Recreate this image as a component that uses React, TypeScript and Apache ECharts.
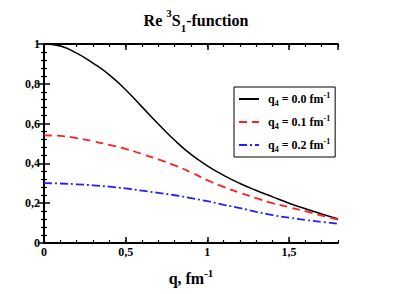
import React, { useEffect, useRef } from "react";
import * as echarts from "echarts";

const qValues = [0, 0.1, 0.2, 0.3, 0.4, 0.5, 0.6, 0.7, 0.8, 0.9, 1.0, 1.1, 1.2, 1.3, 1.4, 1.5, 1.6, 1.7, 1.8];
const q4_00 = [1.0, 0.99, 0.954, 0.904, 0.845, 0.77, 0.684, 0.598, 0.516, 0.445, 0.388, 0.34, 0.299, 0.264, 0.232, 0.2, 0.172, 0.146, 0.121];
const q4_01 = [0.541, 0.538, 0.527, 0.511, 0.493, 0.473, 0.447, 0.42, 0.39, 0.355, 0.316, 0.282, 0.252, 0.225, 0.2, 0.18, 0.16, 0.138, 0.118];
const q4_02 = [0.301, 0.299, 0.295, 0.29, 0.283, 0.274, 0.263, 0.252, 0.24, 0.226, 0.21, 0.192, 0.175, 0.157, 0.14, 0.127, 0.116, 0.106, 0.097];
const seriesNames = ["q4 = 0.0", "q4 = 0.1", "q4 = 0.2"];
const xTickLabels = ["0", "0,5", "1", "1,5"];

const FONT = "'Liberation Serif', 'Times New Roman', serif";

export default function App() {
  const ref = useRef<HTMLDivElement>(null);
  useEffect(() => {
    if (!ref.current) return;
    const chart = echarts.init(ref.current, null, { renderer: "svg" });
    const pairs = (ys: number[]) => qValues.map((q, i) => [q, ys[i]]);
    const frameLine = { show: true, lineStyle: { color: "#000", width: 2 } };
    const fmt = (v: number) => String(v).replace(".", ",");
    const xMajor = (position: string, labels: boolean) => ({
      type: "value",
      position,
      min: 0,
      max: 1.8,
      interval: 0.5,
      axisLine: frameLine,
      axisTick: { show: true, inside: true, length: 6, lineStyle: { color: "#000", width: 1.5 } },
      axisLabel: labels
        ? {
            show: true,
            margin: 3,
            showMaxLabel: false,
            fontFamily: FONT,
            fontWeight: "bold",
            fontSize: 12,
            color: "#000",
            formatter: (v: number) => {
              const idx = Math.round(v / 0.5);
              return Math.abs(v - idx * 0.5) < 1e-6 ? xTickLabels[idx] ?? "" : "";
            },
          }
        : { show: false },
      splitLine: { show: false },
      ...(labels
        ? {
            name: "q, fm{sup|-1}",
            nameLocation: "middle",
            nameGap: 24,
            nameTextStyle: {
              fontFamily: FONT,
              fontWeight: "bold",
              fontSize: 16,
              color: "#000",
              lineHeight: 22,
              rich: {
                sup: { fontFamily: FONT, fontWeight: "bold", fontSize: 11, verticalAlign: "top", lineHeight: 22, color: "#000" },
              },
            },
          }
        : {}),
    });
    const xMinor = (position: string) => ({
      type: "value",
      position,
      min: 0,
      max: 1.8,
      interval: 0.1,
      axisLine: { show: false },
      axisTick: { show: true, inside: true, length: 3, lineStyle: { color: "#000", width: 1.2 } },
      axisLabel: { show: false },
      splitLine: { show: false },
    });
    const yAxis = (position: string, labels: boolean) => ({
      type: "value",
      position,
      min: 0,
      max: 1,
      interval: 0.2,
      axisLine: frameLine,
      axisTick: { show: true, inside: true, length: 6, lineStyle: { color: "#000", width: 1.5 } },
      minorTick: { show: true, splitNumber: 5, length: 3, lineStyle: { color: "#000", width: 1.2 } },
      axisLabel: labels
        ? { show: true, margin: 4, fontFamily: FONT, fontWeight: "bold", fontSize: 12, color: "#000", formatter: fmt }
        : { show: false },
      splitLine: { show: false },
      minorSplitLine: { show: false },
    });

    chart.setOption({
      animation: false,
      backgroundColor: "#fff",
      title: {
        text: "Re {sup|3}S{sub|1}-function",
        left: 191,
        textAlign: "center",
        top: 2,
        textStyle: {
          fontFamily: FONT,
          fontWeight: "bold",
          fontSize: 16,
          color: "#000",
          lineHeight: 26,
          rich: {
            sup: { fontFamily: FONT, fontWeight: "bold", fontSize: 11, verticalAlign: "top", lineHeight: 26, color: "#000" },
            sub: { fontFamily: FONT, fontWeight: "bold", fontSize: 11, verticalAlign: "bottom", lineHeight: 26, color: "#000" },
          },
        },
      },
      grid: { left: 44, top: 44, right: 77, bottom: 45, containLabel: false },
      xAxis: [xMajor("bottom", true), xMinor("bottom"), xMajor("top", false), xMinor("top")],
      yAxis: [yAxis("left", true), yAxis("right", false)],
      legend: {
        show: true,
        orient: "vertical",
        left: 234,
        top: 87,
        itemWidth: 20,
        itemHeight: 14,
        itemGap: 7,
        padding: [4, 5, 4, 4],
        borderColor: "#000",
        borderWidth: 1,
        backgroundColor: "#fff",
        itemStyle: { opacity: 0 },
        formatter: (name: string) => {
          const v = name.split("= ")[1];
          return `q{sub|4} = ${v} fm{sup|-1}`;
        },
        textStyle: {
          fontFamily: FONT,
          fontWeight: "bold",
          fontSize: 12,
          color: "#000",
          lineHeight: 16,
          padding: [0, 0, 0, 4],
          rich: {
            sub: { fontFamily: FONT, fontWeight: "bold", fontSize: 8, verticalAlign: "bottom", lineHeight: 16, color: "#000" },
            sup: { fontFamily: FONT, fontWeight: "bold", fontSize: 8, verticalAlign: "top", lineHeight: 16, color: "#000" },
          },
        },
        data: seriesNames,
      },
      series: [
        {
          name: seriesNames[0],
          type: "line",
          data: pairs(q4_00),
          smooth: true,
          symbol: "none",
          xAxisIndex: 0,
          yAxisIndex: 0,
          lineStyle: { color: "#000", width: 1.5, type: "solid" },
          itemStyle: { color: "#000" },
        },
        {
          name: seriesNames[1],
          type: "line",
          data: pairs(q4_01),
          smooth: true,
          symbol: "none",
          xAxisIndex: 0,
          yAxisIndex: 0,
          lineStyle: { color: "#ff2020", width: 1.8, type: [8, 5] },
          itemStyle: { color: "#ff2020" },
        },
        {
          name: seriesNames[2],
          type: "line",
          data: pairs(q4_02),
          smooth: true,
          symbol: "none",
          xAxisIndex: 0,
          yAxisIndex: 0,
          lineStyle: { color: "#2020ff", width: 1.8, type: [8, 3, 2, 3] },
          itemStyle: { color: "#2020ff" },
        },
      ],
    });
    return () => chart.dispose();
  }, []);
  return <div ref={ref} style={{ width: 415, height: 294, position: "absolute", left: 0, top: 0 }} />;
}
